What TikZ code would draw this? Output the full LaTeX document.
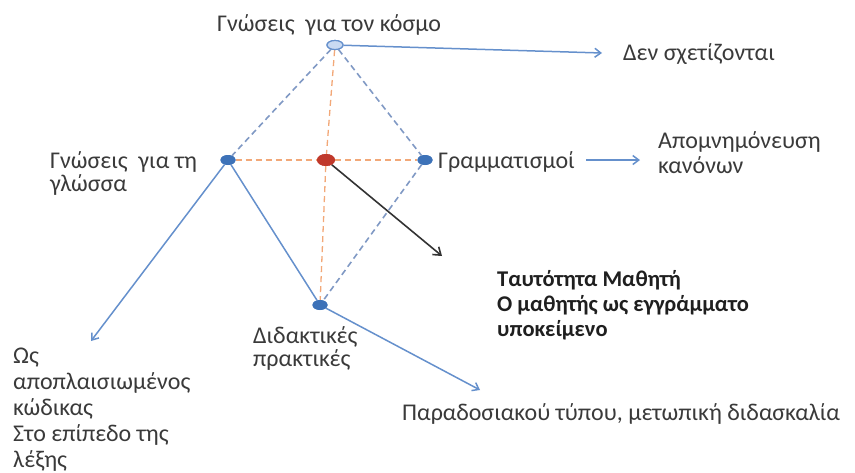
\documentclass[tikz,border=0pt]{standalone}
\usepackage{fontspec}
\setmainfont{Carlito}
\usetikzlibrary{shapes.geometric,arrows.meta}
\definecolor{txtgray}{HTML}{3A3A3A}
\definecolor{dotblue}{HTML}{3D72B8}
\definecolor{dotred}{HTML}{C0392B}
\definecolor{lineblue}{HTML}{6590CC}
\definecolor{dashblue}{HTML}{8099C4}
\definecolor{dashorange}{HTML}{F2A878}
\definecolor{topfill}{HTML}{C9DAF2}
\tikzset{
  lbl/.style={font=\fontsize{24}{25}\selectfont, text=txtgray, inner sep=0, align=left},
  blbl/.style={font=\fontsize{22.5}{25}\selectfont\bfseries, text=black!88, inner sep=0, align=left},
  dotnode/.style={ellipse, fill=dotblue, minimum width=15, minimum height=10, inner sep=0},
  reddot/.style={ellipse, fill=dotred, minimum width=18, minimum height=12, inner sep=0},
  topdot/.style={ellipse, fill=topfill, draw=lineblue, line width=1.2pt, minimum width=16, minimum height=9, inner sep=0},
  bdash/.style={draw=dashblue, line width=1.6pt, dash pattern=on 6pt off 4pt},
  odash/.style={draw=dashorange, line width=1.3pt, dash pattern=on 6pt off 4pt},
  sline/.style={draw=lineblue, line width=1.5pt},
  arr/.style={sline, -{Straight Barb[length=6pt,width=9pt]}},
  karr/.style={draw=black!80, line width=1.6pt, -{Straight Barb[length=7pt,width=10pt]}},
}
\begin{document}
\begin{tikzpicture}[x=1pt,y=-1pt]
\useasboundingbox (0,0) rectangle (855,472);
% key points
\node[dotnode] (L) at (228,160) {};
\node[reddot] (C) at (326,160) {};
\node[dotnode] (R) at (425,160) {};
\node[dotnode] (B) at (320,305) {};
\node[topdot] (T) at (335,45) {};
\coordinate (tA) at (602,53);
\coordinate (g1) at (586,160);
\coordinate (g2) at (640,160);
\coordinate (lA) at (91,341);
\coordinate (bA) at (480,390);
\coordinate (cA) at (442,256);
% dashed frame
\draw[odash] (T) -- (C);
\draw[odash] (C) -- (B);
\draw[odash] (L) -- (C);
\draw[odash] (C) -- (R);
\draw[bdash] (T) -- (L);
\draw[bdash] (T) -- (R);
\draw[bdash] (R) -- (B);
% solid lines and arrows
\draw[sline] (L) -- (B);
\draw[arr] (L) -- (lA);
\draw[arr] (B) -- (bA);
\draw[arr] (T) -- (tA);
\draw[arr] (g1) -- (g2);
\draw[karr] (C) -- (cA);
% redraw dots on top
\node[dotnode] at (L) {};
\node[reddot] at (C) {};
\node[dotnode] at (R) {};
\node[dotnode] at (B) {};
\node[topdot] at (T) {};
% labels (multi-line nodes: base = baseline of last line)
\node[lbl, anchor=base west] (tT) at (217,31) {Γνώσεις\hspace{0.45em}για τον κόσμο};
\node[lbl, anchor=base west] (tD) at (623,60) {Δεν σχετίζονται};
\node[lbl, anchor=base west, font=\fontsize{24}{23}\selectfont] (tL) at (50,191) {Γνώσεις\hspace{0.45em}για τη\\γλώσσα};
\node[lbl, anchor=base west] (tR) at (438,168) {Γραμματισμοί};
\node[lbl, anchor=base west] (tA2) at (658,173) {Απομνημόνευση\\κανόνων};
\node[blbl, anchor=base west] (tC) at (497,336) {Ταυτότητα Μαθητή\\Ο μαθητής ως εγγράμματο\\υποκείμενο};
\node[lbl, anchor=base west, font=\fontsize{24}{23}\selectfont] (tB) at (253,366) {Διδακτικές\\πρακτικές};
\node[lbl, anchor=base west, font=\fontsize{24}{26}\selectfont] (tW) at (13,467) {Ως\\αποπλαισιωμένος\\κώδικας\\Στο επίπεδο της\\λέξης};
\node[lbl, anchor=base west] (tP) at (402,420) {Παραδοσιακού τύπου, μετωπική διδασκαλία};
\end{tikzpicture}
\end{document}
